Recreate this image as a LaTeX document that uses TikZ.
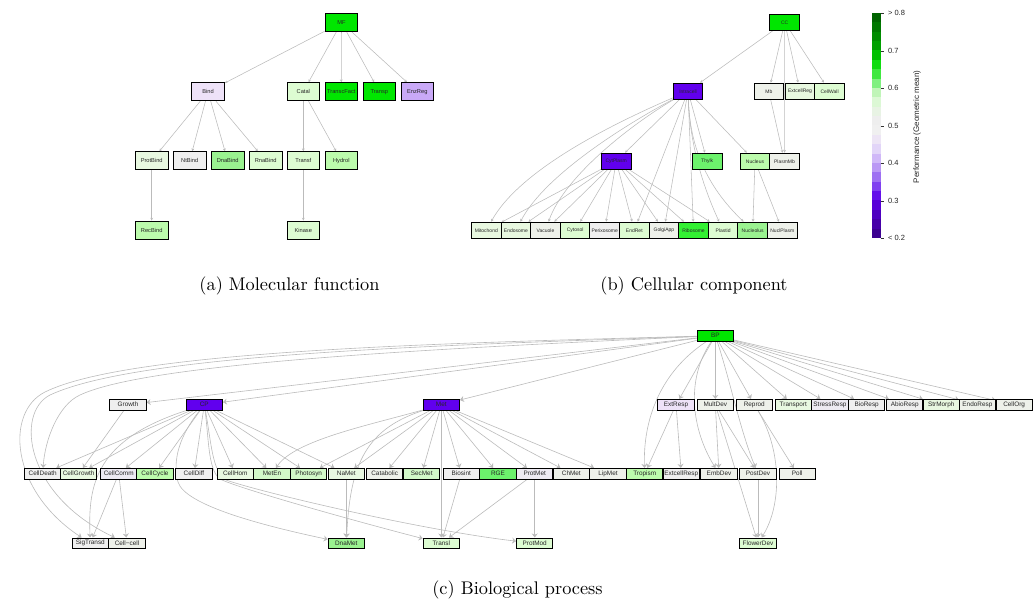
\documentclass[tikz,border=0pt]{standalone}
\usepackage{fontspec}
\usepackage{graphicx}
\newfontfamily\labfont{Liberation Sans}
\usetikzlibrary{arrows.meta,backgrounds}
\definecolor{cBright}{HTML}{00E600}
\definecolor{cPur}{HTML}{6100EE}
\definecolor{cLav}{HTML}{EEE2F8}
\definecolor{cLav2}{HTML}{C9A9F7}
\definecolor{cLavG}{HTML}{EDEAF2}
\definecolor{cG1}{HTML}{DDFCD2}
\definecolor{cG2}{HTML}{E8F8E0}
\definecolor{cG3}{HTML}{BCFBAC}
\definecolor{cG4}{HTML}{9AF290}
\definecolor{cG5}{HTML}{6CF26C}
\definecolor{cG6}{HTML}{33F033}
\definecolor{cG7}{HTML}{D2F8C8}
\definecolor{cGr}{HTML}{EFEFEF}
\definecolor{cGrG}{HTML}{EEF1EA}
\definecolor{edgegray}{HTML}{BBBBBB}
\begin{document}
\begin{tikzpicture}[x=1pt,y=-1pt,
  box/.style={draw=black,line width=0.9pt,inner sep=0pt,text=black!85},
  boxA/.style={box,minimum width=32.7pt,minimum height=18pt,font=\labfont\fontsize{5.7}{6}\selectfont},
  boxB/.style={box,minimum width=29.6pt,minimum height=16.3pt,font=\labfont\fontsize{5}{6}\selectfont},
  boxC/.style={box,minimum width=36.3pt,minimum height=10.7pt,font=\labfont\fontsize{6.4}{7}\selectfont},
  edgeA/.style={draw=edgegray,line width=0.55pt,-{Stealth[length=2.8pt,width=2.8pt]}},
  edgeC/.style={draw=edgegray,line width=0.6pt,-{Stealth[length=4pt,width=6pt]}},
  captxt/.style={font=\fontsize{10}{12}\selectfont},
  cbl/.style={anchor=west,font=\labfont\fontsize{7.5}{8}\selectfont,text=black!85}
]
\useasboundingbox (0,0) rectangle (1035,612);
% ---------------- (a) Molecular function
\node[boxA,fill=cBright] (MF) at (341.5,22.5) {MF};
\node[boxA,fill=cLav] (Bind) at (208,91.7) {Bind};
\node[boxA,fill=cG1] (Catal) at (303.3,91.7) {Catal};
\node[boxA,fill=cBright] (TranscFact) at (341.3,91.7) {TranscFact};
\node[boxA,fill=cBright] (Transp) at (379.3,91.7) {Transp};
\node[boxA,fill=cLav2] (EnzReg) at (417.3,91.7) {EnzReg};
\node[boxA,fill=cG2] (ProtBind) at (151.7,160.7) {ProtBind};
\node[boxA,fill=cGr] (NtBind) at (189.7,160.7) {NtBind};
\node[boxA,fill=cG4] (DnaBind) at (227.7,160.7) {DnaBind};
\node[boxA,fill=cG1] (RnaBind) at (265.7,160.7) {RnaBind};
\node[boxA,fill=cG1] (Transf) at (303.3,160.7) {Transf};
\node[boxA,fill=cG3] (Hydrol) at (341.3,160.7) {Hydrol};
\node[boxA,fill=cG3] (RecBind) at (151.7,230) {RecBind};
\node[boxA,fill=cG1] (Kinase) at (303.3,230) {Kinase};
% ---------------- (b) Cellular component
\node[boxB,fill=cBright] (CC) at (784.7,22.3) {CC};
\node[boxB,fill=cPur] (Intracell) at (688,91.3) {Intracell};
\node[boxB,fill=cGrG] (Mb) at (768.8,91.3) {Mb};
\node[boxB,fill=cG2] (ExtcellReg) at (800,91.3) {ExtcellReg};
\node[boxB,fill=cG1] (CellWall) at (829.6,91.3) {CellWall};
\node[boxB,fill=cPur] (CytPlasm) at (616.2,161.3) {CytPlasm};
\node[boxB,fill=cG5] (Thylk) at (707.2,161.3) {Thylk};
\node[boxB,fill=cG3] (Nucleus) at (755,161.3) {Nucleus};
\node[boxB,fill=cGrG] (PlasmMb) at (784.5,161.3) {PlasmMb};
\node[boxB,fill=cG2] (Mitochond) at (486.3,230.3) {Mitochond};
\node[boxB,fill=cG2] (Endosome) at (515.9,230.3) {Endosome};
\node[boxB,fill=cGrG] (Vacuole) at (545.5,230.3) {Vacuole};
\node[boxB,fill=cG1] (Cytosol) at (575.1,230.3) {Cytosol};
\node[boxB,fill=cGr] (Perixosome) at (604.7,230.3) {Perixosome};
\node[boxB,fill=cG1] (EndRet) at (634.3,230.3) {EndRet};
\node[boxB,fill=cGrG] (GolgiApp) at (663.9,230.3) {GolgiApp};
\node[boxB,fill=cG6] (Ribosome) at (693.5,230.3) {Ribosome};
\node[boxB,fill=cG1] (Plastid) at (723.1,230.3) {Plastid};
\node[boxB,fill=cG4] (Nucleolus) at (752.7,230.3) {Nucleolus};
\node[boxB,fill=cGrG] (NuclPlasm) at (782.3,230.3) {NuclPlasm};
% colour bar
\foreach \c [count=\i from 0] in {006400,007800,008C00,00A000,00C000,10DC10,40E840,80F080,C0F5B8,DCF8D5,E8F3E4,EEEEEE,F0F0F0,EDE5F5,E2D5F8,D0B8F8,BA98F5,9E70F2,8040F0,6410EA,5800D8,4E00C0,4600A8,3C0090}{
  \definecolor{bandc}{HTML}{\c}
  \fill[bandc] (872,{13+\i*9.375}) rectangle (880.7,{13+(\i+1)*9.375+0.2});
}
\foreach \v/\yy in {{> 0.8}/13.3,0.7/50.8,0.6/88.3,0.5/125.8,0.4/163.3,0.3/200.8,{< 0.2}/238.3}{
  \draw[line width=0.5pt,black!80] (880.7,\yy) -- (883.6,\yy);
  \node[cbl] at (884.5,\yy) {\v};
}
\node[rotate=90,font=\labfont\fontsize{8}{9}\selectfont,text=black!85] (cbtitle) at (917,127) {Performance (Geometric mean)};
% ---------------- (c) Biological process
\node[boxC,fill=cBright] (BP) at (715.3,335.7) {BP};
\node[boxC,fill=cGr] (Growth) at (128,404.7) {Growth};
\node[boxC,fill=cPur] (CP) at (204.3,404.7) {CP};
\node[boxC,fill=cPur] (Met) at (441.3,404.7) {Met};
\node[boxC,fill=cLav] (ExtResp) at (676,404.7) {ExtResp};
\node[boxC,fill=cGrG] (MultDev) at (715.3,404.7) {MultDev};
\node[boxC,fill=cGrG] (Reprod) at (754.3,404.7) {Reprod};
\node[boxC,fill=cG2] (Transport) at (793.3,404.7) {Transport};
\node[boxC,fill=cLavG] (StressResp) at (830,404.7) {StressResp};
\node[boxC,fill=cGr] (BioResp) at (866.7,404.7) {BioResp};
\node[boxC,fill=cGr] (AbioResp) at (904.7,404.7) {AbioResp};
\node[boxC,fill=cG2] (StrMorph) at (941.3,404.7) {StrMorph};
\node[boxC,fill=cGrG] (EndoResp) at (977.4,404.7) {EndoResp};
\node[boxC,fill=cGrG] (CellOrg) at (1014.1,404.7) {CellOrg};
\node[boxC,fill=cGr] (CellDeath) at (42.7,473.7) {CellDeath};
\node[boxC,fill=cG2] (CellGrowth) at (78.7,473.7) {CellGrowth};
\node[boxC,fill=cLavG] (CellComm) at (118.7,473.7) {CellComm};
\node[boxC,fill=cG3] (CellCycle) at (155,473.7) {CellCycle};
\node[boxC,fill=cGr] (CellDiff) at (194,473.7) {CellDiff};
\node[boxC,fill=cG2] (CellHom) at (235.3,473.7) {CellHom};
\node[boxC,fill=cG7] (MetEn) at (272,473.7) {MetEn};
\node[boxC,fill=cG7] (Photosyn) at (308.7,473.7) {Photosyn};
\node[boxC,fill=cG2] (NaMet) at (346.3,473.7) {NaMet};
\node[boxC,fill=cGrG] (Catabolic) at (384.7,473.7) {Catabolic};
\node[boxC,fill=cG7] (SecMet) at (421.7,473.7) {SecMet};
\node[boxC,fill=cGr] (Biosint) at (461.3,473.7) {Biosint};
\node[boxC,fill=cG5] (RGE) at (498,473.7) {RGE};
\node[boxC,fill=cLavG] (ProtMet) at (534.7,473.7) {ProtMet};
\node[boxC,fill=cGrG] (ChMet) at (571.3,473.7) {ChMet};
\node[boxC,fill=cGrG] (LipMet) at (608,473.7) {LipMet};
\node[boxC,fill=cG3] (Tropism) at (644.7,473.7) {Tropism};
\node[boxC,fill=cGr] (ExtcellResp) at (681.3,473.7) {ExtcellResp};
\node[boxC,fill=cGrG] (EmbDev) at (719,473.7) {EmbDev};
\node[boxC,fill=cGrG] (PostDev) at (758,473.7) {PostDev};
\node[boxC,fill=cGrG] (Poll) at (797.3,473.7) {Poll};
\node[boxC,fill=cGr] (SigTransd) at (90.3,543.3) {SigTransd};
\node[boxC,fill=cGrG] (Cellcell) at (127,543.3) {Cell−cell};
\node[boxC,fill=cG4] (DnaMet) at (346.3,543.3) {DnaMet};
\node[boxC,fill=cG1] (Transl) at (441.3,543.3) {Transl};
\node[boxC,fill=cG1] (ProtMod) at (534.7,543.3) {ProtMod};
\node[boxC,fill=cG1] (FlowerDev) at (758,543.3) {FlowerDev};
% captions
\node[captxt] (capa) at (289.5,286) {\scalebox{1.83}{(a) Molecular function}};
\node[captxt] (capb) at (694,286) {\scalebox{1.83}{(b) Cellular component}};
\node[captxt] (capc) at (517.5,590) {\scalebox{1.83}{(c) Biological process}};
% ---------------- edges
\begin{scope}[on background layer]
\foreach \s/\t in {MF/Bind,MF/Catal,MF/TranscFact,MF/Transp,MF/EnzReg,Bind/ProtBind,Bind/NtBind,Bind/DnaBind,Bind/RnaBind,Catal/Transf,Catal/Hydrol,ProtBind/RecBind,Transf/Kinase}
  \draw[edgeA] (\s) -- (\t);
\foreach \s/\t in {CC/Intracell,CC/Mb,CC/ExtcellReg,CC/CellWall,CC/PlasmMb,Mb/PlasmMb,Intracell/CytPlasm,Intracell/Thylk,Intracell/Nucleus,Intracell/EndRet,Intracell/GolgiApp,Intracell/Ribosome,CytPlasm/Mitochond,CytPlasm/Endosome,CytPlasm/Vacuole,CytPlasm/Cytosol,CytPlasm/Perixosome,CytPlasm/EndRet,CytPlasm/GolgiApp,CytPlasm/Ribosome,CytPlasm/Plastid,Nucleus/Nucleolus,Nucleus/NuclPlasm}
  \draw[edgeA] (\s) -- (\t);
\draw[edgeA] (Intracell) .. controls (610,125) and (520,170) .. (Mitochond);
\draw[edgeA] (Intracell) .. controls (625,125) and (545,175) .. (Endosome);
\draw[edgeA] (Intracell) .. controls (635,122) and (565,175) .. (Vacuole);
\draw[edgeA] (Intracell) .. controls (690,140) and (700,180) .. (Plastid);
\draw[edgeA] (Intracell) .. controls (690,145) and (705,185) .. (Nucleolus);
% (c)
\foreach \t in {Growth,CP,Met,ExtResp,MultDev,Reprod,Transport,StressResp,BioResp,AbioResp,StrMorph,EndoResp,CellOrg}
  \draw[edgeC] (BP) -- (\t);
\foreach \t in {CellDeath,CellGrowth,CellComm,CellCycle,CellDiff,CellHom,MetEn,Photosyn,NaMet}
  \draw[edgeC] (CP) -- (\t);
\foreach \t in {Photosyn,NaMet,Catabolic,SecMet,Transl,Biosint,RGE,ProtMet,ChMet,LipMet}
  \draw[edgeC] (Met) -- (\t);
\foreach \s/\t in {Growth/CellGrowth,CellComm/SigTransd,CellComm/Cellcell,NaMet/DnaMet,Biosint/Transl,ProtMet/Transl,ProtMet/ProtMod,ExtResp/Tropism,ExtResp/ExtcellResp,MultDev/EmbDev,MultDev/PostDev,MultDev/FlowerDev,Reprod/Poll,PostDev/FlowerDev}
  \draw[edgeC] (\s) -- (\t);
\draw[edgeC] (BP) .. controls (450,348) and (150,362) .. (80,395) .. controls (58,405) and (45,440) .. (CellDeath);
\draw[edgeC] (BP) .. controls (450,343) and (130,350) .. (45,392) .. controls (5,412) and (10,490) .. (SigTransd);
\draw[edgeC] (BP) .. controls (450,345) and (140,353) .. (50,395) .. controls (15,413) and (25,495) .. (Cellcell);
\draw[edgeC] (BP) .. controls (660,372) and (643,420) .. (Tropism);
\draw[edgeC] (BP) .. controls (685,380) and (692,430) .. (EmbDev);
\draw[edgeC] (BP) .. controls (730,380) and (740,430) .. (PostDev);
\draw[edgeC] (Reprod) .. controls (782,450) and (782,505) .. (FlowerDev);
\draw[edgeC] (Met) .. controls (370,425) and (295,440) .. (MetEn);
\draw[edgeC] (Met) .. controls (362,430) and (350,470) .. (DnaMet);
\draw[edgeC] (CP) .. controls (95,440) and (88,485) .. (SigTransd);
\draw[edgeC] (CP) .. controls (180,435) and (172,460) .. (178,482) .. controls (185,505) and (260,525) .. (DnaMet);
\draw[edgeC] (CP) .. controls (209,440) and (208,474) .. (222,480) .. controls (250,492) and (370,525) .. (Transl);
\draw[edgeC] (CP) .. controls (211,440) and (212,472) .. (226,480) .. controls (260,492) and (420,530) .. (ProtMod);
\end{scope}
\end{tikzpicture}
\end{document}
